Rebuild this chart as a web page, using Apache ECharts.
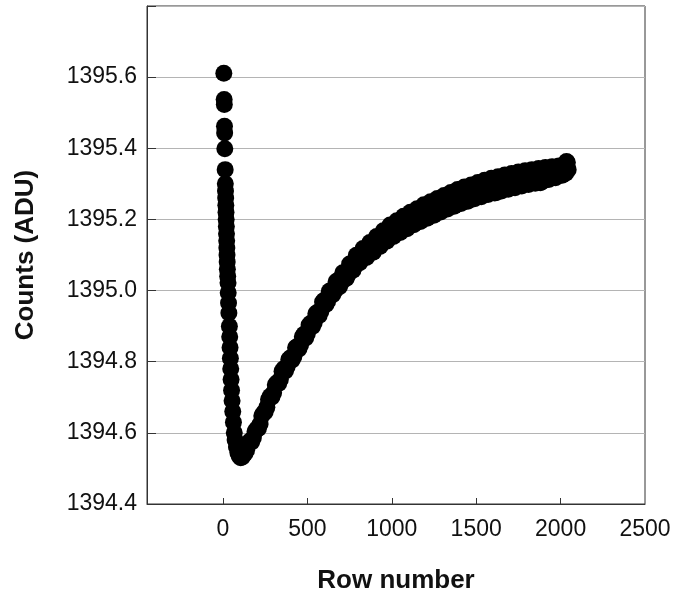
<!DOCTYPE html>
<html>
<head>
<meta charset="utf-8">
<script src="https://cdn.jsdelivr.net/npm/echarts@6/dist/echarts.min.js"></script>
<style>
html,body{margin:0;padding:0;background:#fff;}
#chart{width:678px;height:599px;}
</style>
</head>
<body>
<div id="chart"></div>
<script>
// Row numbers (x) and counts (y)
var rows = [
  5, 7, 8, 9, 10, 11, 13, 14, 15, 16, 17, 18, 19, 20, 21, 22, 23, 24, 25, 26, 28, 30, 31, 33, 35,
  38, 40, 42, 44, 46, 48, 51, 54, 58, 62, 67, 72, 80, 88, 96, 105, 115,
  120, 140, 160, 180, 200, 220, 240, 260, 280, 300, 320, 340, 360, 380, 400, 420, 440, 460, 480,
  500, 520, 540, 560, 580, 600, 620, 640, 660, 680, 700, 720, 740, 760, 780, 800, 820, 840, 860,
  880, 900, 920, 940, 960, 980, 1000, 1020, 1040, 1060, 1080, 1100, 1120, 1140, 1160, 1180, 1200,
  1220, 1240, 1260, 1280, 1300, 1320, 1340, 1360, 1380, 1400, 1420, 1440, 1460, 1480, 1500, 1520,
  1540, 1560, 1580, 1600, 1620, 1640, 1660, 1680, 1700, 1720, 1740, 1760, 1780, 1800, 1820, 1840,
  1860, 1880, 1900, 1920, 1940, 1960, 1980, 2000, 2020, 2030, 2040, 2045
];
var counts = [
  1395.611, 1395.537, 1395.523, 1395.462, 1395.443, 1395.399, 1395.340, 1395.300, 1395.280, 1395.260,
  1395.240, 1395.220, 1395.200, 1395.180, 1395.160, 1395.140, 1395.120, 1395.100, 1395.080, 1395.060,
  1395.040, 1395.022, 1394.994, 1394.965, 1394.937,
  1394.900, 1394.870, 1394.840, 1394.810, 1394.780, 1394.750, 1394.720, 1394.690, 1394.660, 1394.630,
  1394.600, 1394.580, 1394.560, 1394.545, 1394.535, 1394.530, 1394.532,
  1394.546, 1394.551, 1394.577, 1394.586, 1394.611, 1394.625, 1394.656, 1394.672, 1394.703, 1394.713,
  1394.741, 1394.750, 1394.780, 1394.786, 1394.811, 1394.815, 1394.843, 1394.848, 1394.877,
  1394.879, 1394.908, 1394.909, 1394.939, 1394.942, 1394.973, 1394.970, 1395.000, 1394.998, 1395.028,
  1395.021, 1395.050, 1395.044, 1395.075, 1395.067, 1395.096, 1395.088, 1395.117, 1395.102,
  1395.132, 1395.119, 1395.150, 1395.133, 1395.164, 1395.149, 1395.181, 1395.163, 1395.192, 1395.172,
  1395.202, 1395.184, 1395.216, 1395.195, 1395.225, 1395.202, 1395.234,
  1395.213, 1395.245, 1395.219, 1395.252, 1395.230, 1395.263, 1395.240, 1395.271, 1395.241, 1395.278,
  1395.254, 1395.286, 1395.258, 1395.292, 1395.268, 1395.300,
  1395.272, 1395.304, 1395.281, 1395.311, 1395.276, 1395.314, 1395.289, 1395.322, 1395.293, 1395.324,
  1395.299, 1395.329, 1395.302, 1395.334, 1395.307, 1395.336,
  1395.306, 1395.303, 1395.340, 1395.317, 1395.344, 1395.319, 1395.346, 1395.326, 1395.350, 1395.330,
  1395.360, 1395.340
];
var rowsFill = [
  130, 150, 170, 190, 210, 230, 250, 270, 290, 310, 330, 350, 370, 390, 410, 430, 450, 470, 490,
  510, 530, 550, 570, 590, 610, 630, 650, 670, 690, 710, 730, 750, 770, 790, 810, 830, 850, 870, 890,
  910, 930, 950, 970, 990, 1010, 1030, 1050, 1070, 1090, 1110, 1130, 1150, 1170, 1190, 1210, 1230,
  1250, 1270, 1290, 1310, 1330, 1350, 1370, 1390, 1410, 1430, 1450, 1470, 1490, 1510, 1530, 1550,
  1570, 1590, 1610, 1630, 1650, 1670, 1690, 1710, 1730, 1750, 1770, 1790, 1810, 1830, 1850, 1870,
  1890, 1910, 1930, 1950, 1970, 1990, 2010, 2035
];
var countsFill = [
  1394.542, 1394.569, 1394.574, 1394.604, 1394.612, 1394.648, 1394.659, 1394.694, 1394.701, 1394.735,
  1394.739, 1394.773, 1394.774, 1394.806, 1394.805, 1394.839, 1394.836, 1394.870, 1394.867,
  1394.903, 1394.899, 1394.935, 1394.930, 1394.968, 1394.961, 1394.998, 1394.988, 1395.025, 1395.011,
  1395.050, 1395.034, 1395.075, 1395.057, 1395.099, 1395.078, 1395.118, 1395.093, 1395.135, 1395.108,
  1395.152, 1395.124, 1395.168, 1395.139, 1395.184, 1395.152, 1395.196, 1395.163, 1395.209, 1395.174,
  1395.220, 1395.185, 1395.230, 1395.194, 1395.241, 1395.203, 1395.250,
  1395.212, 1395.259, 1395.221, 1395.267, 1395.229, 1395.276, 1395.237, 1395.284, 1395.245, 1395.291,
  1395.251, 1395.297, 1395.258, 1395.304, 1395.264, 1395.310,
  1395.270, 1395.316, 1395.274, 1395.320, 1395.280, 1395.325, 1395.285, 1395.329, 1395.289, 1395.333,
  1395.294, 1395.337, 1395.298, 1395.340, 1395.302, 1395.343,
  1395.306, 1395.346, 1395.312, 1395.348, 1395.317, 1395.350, 1395.324, 1395.363
];
var xTickValues = [0, 500, 1000, 1500, 2000];
var xLabelValues = [0, 500, 1000, 1500, 2000, 2500];

var points = rows.map(function (r, i) { return [r, counts[i]]; })
  .concat(rowsFill.map(function (r, i) { return [r, countsFill[i]]; }));

var chart = echarts.init(document.getElementById('chart'));
var FONT = '"Liberation Sans", Arial, sans-serif';
chart.setOption({
  animation: false,
  backgroundColor: '#ffffff',
  grid: {
    left: 147, right: 33, top: 6, bottom: 95,
    show: true, borderColor: '#333', borderWidth: 1, backgroundColor: 'transparent'
  },
  xAxis: {
    type: 'value',
    min: -450, max: 2500,
    name: 'Row number',
    nameLocation: 'middle',
    nameGap: 64,
    nameTextStyle: { fontFamily: FONT, fontSize: 26, fontWeight: 'bold', color: '#111' },
    axisLine: { show: true, onZero: false, lineStyle: { color: '#333', width: 1 } },
    axisTick: { show: true, inside: true, length: 6, customValues: xTickValues, lineStyle: { color: '#333' } },
    axisLabel: {
      customValues: xLabelValues, margin: 14, fontFamily: FONT, fontSize: 23, color: '#111',
      formatter: function (v) { return String(v); }
    },
    splitLine: { show: false }
  },
  yAxis: {
    type: 'value',
    min: 1394.4, max: 1395.8, interval: 0.2,
    name: 'Counts (ADU)',
    nameLocation: 'middle',
    nameGap: 108,
    nameTextStyle: { fontFamily: FONT, fontSize: 26, fontWeight: 'bold', color: '#111' },
    axisLine: { show: true, onZero: false, lineStyle: { color: '#333', width: 1 } },
    axisTick: { show: true, inside: true, length: 9, lineStyle: { color: '#333' } },
    axisLabel: {
      margin: 10, fontFamily: FONT, fontSize: 23, color: '#111',
      formatter: function (v) { return Math.abs(v - 1395.8) < 1e-6 ? '' : v.toFixed(1); }
    },
    splitLine: { show: true, lineStyle: { color: '#b4b4b4', width: 1 } }
  },
  series: [{
    type: 'scatter',
    data: points,
    symbol: 'circle',
    symbolSize: 17,
    itemStyle: { color: '#000', opacity: 1 },
    silent: true
  }]
});
</script>
</body>
</html>
